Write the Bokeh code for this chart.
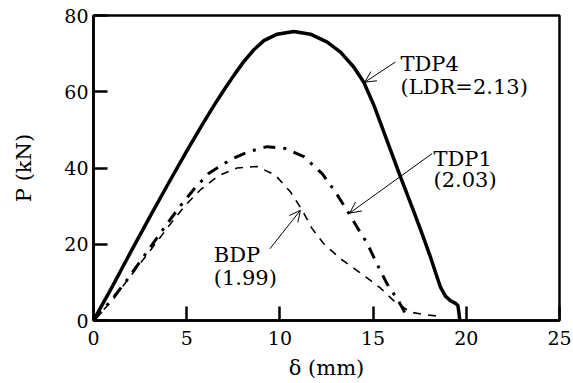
from bokeh.plotting import figure
from bokeh.models import Range1d, FixedTicker, Arrow, OpenHead, ColumnDataSource
from bokeh.core.properties import value
from bokeh.embed import file_html
from bokeh.resources import INLINE

# TDP4 (LDR=2.13)
tdp4_x = [0, 1, 2, 3, 4, 5, 5.74, 6.45, 6.99, 7.53, 8.06, 8.6, 9.14, 9.85, 10.75,
          11.64, 12.54, 13.25, 13.96, 14.5, 15.04, 15.4, 16.1, 16.5, 17.18, 17.63, 18.08,
          18.35, 18.6, 18.88, 19.15, 19.42, 19.55, 19.6, 19.65]
tdp4_y = [0, 8.8, 18.0, 27.0, 35.8, 44.4, 50.6, 56.3, 60.4, 64.3, 67.9, 71.0, 73.4, 75.1, 75.8,
          75.1, 73.0, 70.4, 66.5, 62.5, 56.5, 51.8, 42.5, 37.3, 28.6, 22.7, 16.6,
          12.6, 8.9, 6.4, 5.2, 4.5, 3.9, 2.2, 0]

# TDP1 (2.03)
tdp1_x = [0, 1, 1.79, 3.1, 3.95, 4.7, 5.47, 6.19, 7.35, 8.33, 9.31, 10.3, 11.28, 12.27,
          12.98, 13.6, 14.14, 14.7, 15.2, 15.75, 16.29, 16.65, 16.82]
tdp1_y = [0, 5.6, 10.6, 19.6, 25.4, 30.3, 34.9, 38.6, 42.2, 44.3, 45.6, 45.1, 43.0, 38.5,
          33.7, 28.9, 24.5, 20.1, 14.9, 9.6, 5.7, 2.6, 0]

# BDP (1.99)
bdp_x = [0, 1, 1.85, 3.3, 4.2, 5.0, 5.74, 6.72, 7.71, 8.77, 9.76, 10.57, 11.2, 11.73,
         12.36, 13.25, 14.14, 14.86, 15.4, 16.1, 17.0, 17.7, 18.4]
bdp_y = [0, 5.2, 10.8, 20, 25.8, 30.6, 34.3, 38.0, 40.0, 40.4, 38.1, 33.7, 28.9, 24.1,
         20.1, 16.2, 13.1, 10.5, 8.5, 5.2, 2.2, 1.6, 1.2]

x_ticks = [0, 5, 10, 15, 20, 25]
y_ticks = [0, 20, 40, 60, 80]

label_text = ["TDP4", "(LDR=2.13)", "TDP1", "(2.03)", "BDP", "(1.99)"]
label_x = [16.47, 16.47, 18.24, 18.24, 6.45, 6.45]
label_y = [67.4, 61.3, 42.4, 36.9, 17.1, 11.1]

arrow_x0 = [16.2, 18.17, 9.46]
arrow_y0 = [67.8, 43.8, 18.8]
arrow_x1 = [14.55, 13.75, 11.1]
arrow_y1 = [62.5, 28.2, 28.9]

FONT = "DejaVu Serif"

p = figure(width=573, height=383, x_range=Range1d(0, 25), y_range=Range1d(0, 80),
           output_backend="svg", toolbar_location=None,
           min_border_left=93, min_border_right=14, min_border_top=15, min_border_bottom=63)

p.grid.visible = False
p.background_fill_color = "white"
p.border_fill_color = "white"
p.outline_line_color = "black"
p.outline_line_width = 2.5
p.outline_line_alpha = 1

p.xaxis.ticker = FixedTicker(ticks=x_ticks)
p.yaxis.ticker = FixedTicker(ticks=y_ticks)
for ax in (p.xaxis, p.yaxis):
    ax.axis_line_width = 2.5
    ax.axis_line_color = "black"
    ax.major_tick_in = 14
    ax.major_tick_out = 0
    ax.major_tick_line_width = 2.5
    ax.major_tick_line_color = "black"
    ax.minor_tick_line_color = None
    ax.major_label_text_font = FONT
    ax.major_label_text_font_size = "19px"
    ax.major_label_text_color = "black"
    ax.axis_label_text_font = FONT
    ax.axis_label_text_font_size = "21px"
    ax.axis_label_text_font_style = "normal"
    ax.axis_label_text_color = "black"

p.xaxis.axis_label = "δ (mm)"
p.yaxis.axis_label = "P (kN)"
p.xaxis.major_label_standoff = 10
p.yaxis.major_label_standoff = 5
p.xaxis.axis_label_standoff = 8
p.yaxis.axis_label_standoff = 25

p.line(tdp4_x, tdp4_y, line_color="black", line_width=3.5, line_join="round")
p.line(tdp1_x, tdp1_y, line_color="black", line_width=3, line_dash="12 8 3 8")
p.line(bdp_x, bdp_y, line_color="black", line_width=1.6, line_dash="8 7")

src = ColumnDataSource(dict(x=label_x, y=label_y, t=label_text))
p.text(x="x", y="y", text="t", source=src, text_font=value(FONT), text_font_size="21px",
       text_color="black", text_align="left", text_baseline="alphabetic")

for xs, ys, xe, ye in zip(arrow_x0, arrow_y0, arrow_x1, arrow_y1):
    p.add_layout(Arrow(end=OpenHead(size=11, line_width=1, line_color="black"),
                       x_start=xs, y_start=ys, x_end=xe, y_end=ye,
                       line_width=1, line_color="black"))

open("out.html", "w").write(file_html(p, INLINE))
